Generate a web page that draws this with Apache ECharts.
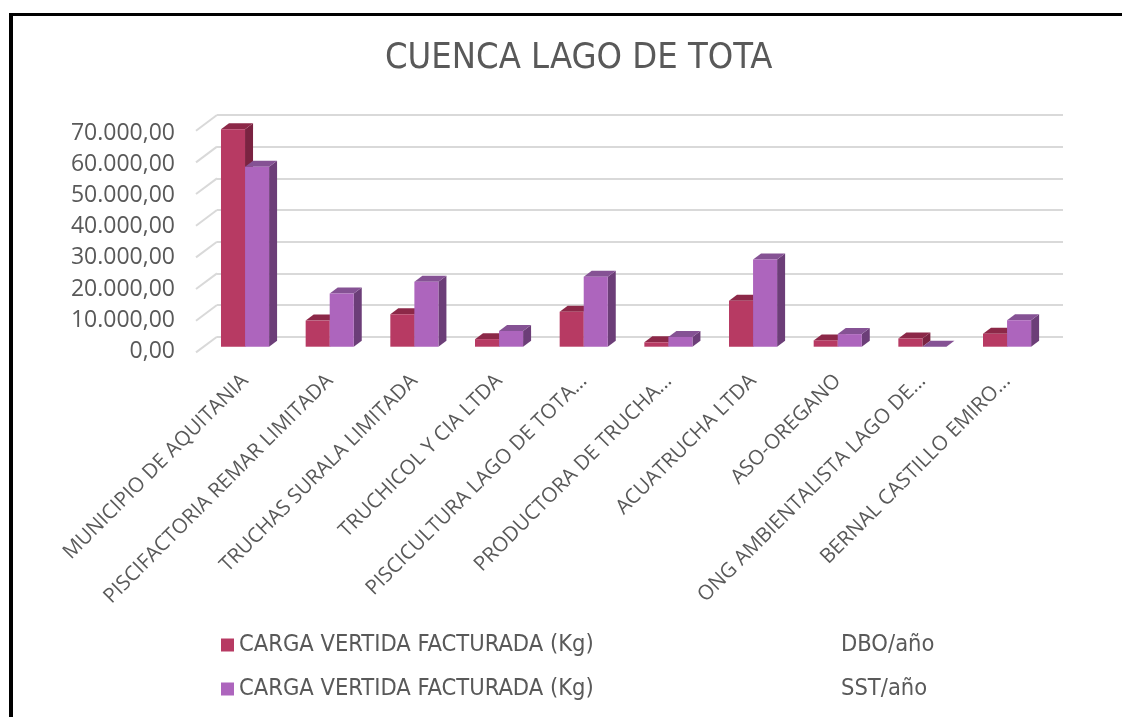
<!DOCTYPE html>
<html lang="es">
<head>
    <meta charset="UTF-8">
    <title>Cuenca Lago de Tota</title>
    <style>
        html, body { margin: 0; padding: 0; background: #fff; }
        #chart { position: absolute; left: 0; top: 0; width: 1122px; height: 717px; }
        #frame {
            position: absolute; left: 9px; top: 13px; width: 1200px; height: 800px;
            border-left: 4px solid #000; border-top: 3px solid #000; pointer-events: none;
        }
    </style>
</head>
<body>
    <div id="chart"></div>
    <div id="frame"></div>
    <script src="https://cdn.jsdelivr.net/npm/echarts@6/dist/echarts.min.js"></script>
    <script>
        // datos (Kg/año)
        var categories = [
            'MUNICIPIO DE AQUITANIA',
            'PISCIFACTORIA REMAR LIMITADA',
            'TRUCHAS SURALA LIMITADA',
            'TRUCHICOL Y CIA LTDA',
            'PISCICULTURA LAGO DE TOTA...',
            'PRODUCTORA DE TRUCHA...',
            'ACUATRUCHA LTDA',
            'ASO-OREGANO',
            'ONG AMBIENTALISTA LAGO DE...',
            'BERNAL CASTILLO EMIRO...'
        ];
        var dboValues = [69000, 8300, 10300, 2400, 11100, 1400, 14600, 2000, 2600, 4100];
        var sstValues = [57100, 16900, 20600, 5000, 22200, 3100, 27700, 4000, 0, 8400];
        var yTicks = [0, 10000, 20000, 30000, 40000, 50000, 60000, 70000];
        var seriesNames = ['CARGA VERTIDA FACTURADA (Kg) DBO/año', 'CARGA VERTIDA FACTURADA (Kg) SST/año'];

        var txt = '#595959';
        var grid = '#d9d9d9';
        var narrow = "'DejaVu Sans Condensed', 'Open Sans', sans-serif";
        var colors = [
            { front: '#b73a63', top: '#8c2848', side: '#7a2341' },
            { front: '#ad65bd', top: '#855294', side: '#6c3e78' }
        ];

        function fmt(v) {
            return String(Math.round(v)).replace(/\B(?=(\d{3})+(?!\d))/g, '.') + ',00';
        }

        // barra con efecto 3D (cara frontal, superior y lateral)
        function bar3d(k) {
            return function (params, api) {
                var base = api.coord([api.value(0), 0]);
                var top = api.coord([api.value(0), api.value(1)]);
                var band = api.size([1, 0])[0];
                var w = band * 0.284;
                var x0 = k === 0 ? base[0] - w : base[0];
                var x1 = x0 + w;
                var yb = base[1], yt = top[1];
                var dx = 8, dy = 6;
                var c = colors[k];
                return {
                    type: 'group',
                    children: [
                        { type: 'polygon', shape: { points: [[x1, yt], [x1 + dx, yt - dy], [x1 + dx, yb - dy], [x1, yb]] }, style: { fill: c.side } },
                        { type: 'polygon', shape: { points: [[x0, yt], [x0 + dx, yt - dy], [x1 + dx, yt - dy], [x1, yt]] }, style: { fill: c.top } },
                        { type: 'rect', shape: { x: x0, y: yt, width: w, height: yb - yt }, style: { fill: c.front } }
                    ]
                };
            };
        }

        var chart = echarts.init(document.getElementById('chart'));
        var option = {
            animation: false,
            title: {
                text: 'CUENCA LAGO DE TOTA',
                left: 380, top: 36,
                textStyle: { color: txt, fontSize: 36, fontWeight: 'normal', fontFamily: narrow }
            },
            legend: {
                data: seriesNames,
                orient: 'vertical',
                left: 221, top: 633,
                padding: 0,
                itemWidth: 13, itemHeight: 13, itemGap: 20,
                icon: 'rect',
                formatter: function (name) {
                    var i = name.lastIndexOf(' ');
                    return '{a|' + name.slice(0, i) + '}{b|' + name.slice(i + 1) + '}';
                },
                textStyle: {
                    rich: {
                        a: { width: 602, fontSize: 23.5, lineHeight: 24, color: txt, fontFamily: narrow },
                        b: { fontSize: 23.5, lineHeight: 24, color: txt, fontFamily: narrow }
                    }
                }
            },
            grid: [
                { left: 202.7, right: 72.6, top: 126.2, bottom: 370.3 },   // caras frontales
                { left: 217, right: 59, top: 115, bottom: 380.3 },         // pared del fondo
                { left: 186, right: 800, top: 133.3, bottom: 365.7 }       // etiquetas eje y
            ],
            xAxis: [
                {
                    type: 'category', gridIndex: 0, data: categories,
                    axisLine: { show: false }, axisTick: { show: false },
                    axisLabel: { rotate: 45, margin: 31, interval: 0, fontSize: 20.5, color: txt, fontFamily: 'Open Sans' }
                },
                { type: 'value', gridIndex: 1, min: 0, max: 1, show: false },
                { type: 'value', gridIndex: 2, min: 0, max: 1, show: false }
            ],
            yAxis: [
                { type: 'value', gridIndex: 0, min: 0, max: 70000, interval: 10000, show: false },
                {
                    type: 'value', gridIndex: 1, min: 0, max: 70000, interval: 10000,
                    axisLine: { show: false }, axisTick: { show: false }, axisLabel: { show: false },
                    splitLine: { lineStyle: { color: grid, width: 2 } }
                },
                {
                    type: 'value', gridIndex: 2, min: 0, max: 70000, interval: 10000,
                    axisLine: { show: false }, axisTick: { show: false }, splitLine: { show: false },
                    axisLabel: { margin: 11, fontSize: 23, color: txt, fontFamily: 'Open Sans', formatter: fmt }
                }
            ],
            series: [
                {
                    type: 'custom', name: 'side-wall', xAxisIndex: 1, yAxisIndex: 1, silent: true,
                    data: yTicks.map(function (v) { return [0, v]; }),
                    renderItem: function (params, api) {
                        var p = api.coord([0, api.value(1)]);
                        return { type: 'line', shape: { x1: p[0] - 21, y1: p[1] + 15.7, x2: p[0], y2: p[1] }, style: { stroke: grid, lineWidth: 2 } };
                    }
                },
                {
                    type: 'custom', name: seriesNames[0], xAxisIndex: 0, yAxisIndex: 0,
                    itemStyle: { color: colors[0].front },
                    data: dboValues.map(function (v, i) { return [i, v]; }),
                    encode: { x: 0, y: 1 },
                    renderItem: bar3d(0)
                },
                {
                    type: 'custom', name: seriesNames[1], xAxisIndex: 0, yAxisIndex: 0,
                    itemStyle: { color: colors[1].front },
                    data: sstValues.map(function (v, i) { return [i, v]; }),
                    encode: { x: 0, y: 1 },
                    renderItem: bar3d(1)
                }
            ]
        };
        chart.setOption(option);
    </script>
</body>
</html>
